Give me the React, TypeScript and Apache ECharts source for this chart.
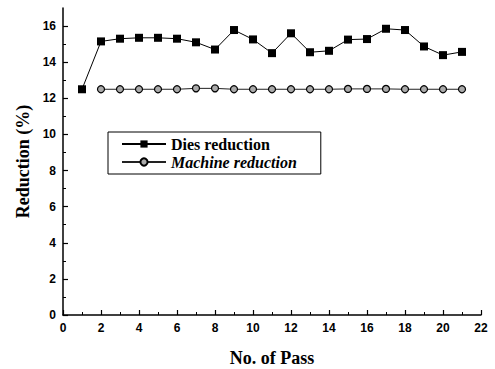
import React, { useEffect, useRef } from "react";
import * as echarts from "echarts";

const passes = [1, 2, 3, 4, 5, 6, 7, 8, 9, 10, 11, 12, 13, 14, 15, 16, 17, 18, 19, 20, 21];
const diesReduction = [12.5, 15.15, 15.3, 15.35, 15.35, 15.3, 15.1, 14.7, 15.78, 15.26, 14.5, 15.6, 14.55, 14.63, 15.25, 15.28, 15.85, 15.78, 14.87, 14.39, 14.57];
const machinePasses = [2, 3, 4, 5, 6, 7, 8, 9, 10, 11, 12, 13, 14, 15, 16, 17, 18, 19, 20, 21];
const machineReduction = [12.5, 12.5, 12.5, 12.5, 12.5, 12.55, 12.55, 12.5, 12.5, 12.5, 12.5, 12.5, 12.5, 12.52, 12.52, 12.52, 12.5, 12.5, 12.5, 12.5];
const yTickValues = [0, 2, 4, 6, 8, 10, 12, 14, 16];

export default function App() {
  const ref = useRef<HTMLDivElement>(null);
  useEffect(() => {
    if (!ref.current) return;
    const chart = echarts.init(ref.current, null, { renderer: "svg" });
    const axisFont = { fontFamily: "Liberation Sans, Arial", fontWeight: "bold" as const, fontSize: 12, color: "#000" };
    const nameFont = { fontFamily: "Liberation Serif, Times New Roman", fontWeight: "bold" as const, fontSize: 18, color: "#000" };
    chart.setOption({
      animation: false,
      backgroundColor: "#fff",
      grid: { left: 63, right: 14, top: 8, bottom: 54, containLabel: false, outerBoundsMode: "none" },
      legend: {
        left: 108,
        top: 132,
        orient: "vertical",
        padding: [4, 24, 4, 13],
        itemGap: 2,
        itemWidth: 44,
        itemHeight: 9,
        borderColor: "#000",
        borderWidth: 1,
        backgroundColor: "#fff",
        data: ["Dies reduction", "Machine reduction"],
        formatter: (name: string) => (name === "Machine reduction" ? "{i|" + name + "}" : "{b|" + name + "}"),
        textStyle: {
          rich: {
            b: { fontFamily: "Liberation Serif, Times New Roman", fontWeight: "bold", fontSize: 16, lineHeight: 19, color: "#000" },
            i: { fontFamily: "Liberation Serif, Times New Roman", fontWeight: "bold", fontStyle: "italic", fontSize: 16, lineHeight: 19, color: "#000" },
          },
        },
      },
      xAxis: {
        type: "value",
        min: 0,
        max: 22,
        interval: 2,
        name: "No. of Pass",
        nameLocation: "middle",
        nameGap: 34,
        nameTextStyle: nameFont,
        axisLine: { lineStyle: { color: "#000", width: 1.5 } },
        axisTick: { inside: true, length: 5, lineStyle: { color: "#000", width: 1.2 } },
        minorTick: { show: true, splitNumber: 2, length: 3, lineStyle: { color: "#000", width: 1 } },
        axisLabel: { ...axisFont, margin: 7 },
        splitLine: { show: false },
      },
      yAxis: {
        type: "value",
        min: 0,
        max: 17,
        interval: 2,
        name: "Reduction (%)",
        nameLocation: "middle",
        nameGap: 30,
        nameTextStyle: nameFont,
        axisLine: { show: true, lineStyle: { color: "#000", width: 1.5 } },
        axisTick: { inside: true, length: 5, customValues: yTickValues, lineStyle: { color: "#000", width: 1.2 } },
        minorTick: { show: true, splitNumber: 2, length: 3, lineStyle: { color: "#000", width: 1 } },
        axisLabel: {
          ...axisFont,
          margin: 7,
          customValues: yTickValues,
        },
        splitLine: { show: false },
      },
      series: [
        {
          name: "Machine reduction",
          type: "line",
          z: 2,
          data: machinePasses.map((p, i) => [p, machineReduction[i]]),
          symbol: "circle",
          symbolSize: 7,
          lineStyle: { color: "#222", width: 1 },
          itemStyle: { color: "#aaa", borderColor: "#000", borderWidth: 1.2 },
        },
        {
          name: "Dies reduction",
          type: "line",
          z: 3,
          data: passes.map((p, i) => [p, diesReduction[i]]),
          symbol: "rect",
          symbolSize: 8,
          lineStyle: { color: "#000", width: 1 },
          itemStyle: { color: "#000" },
        },
      ],
    });
    return () => chart.dispose();
  }, []);
  return <div ref={ref} style={{ width: 495, height: 369, position: "absolute", left: 0, top: 0 }} />;
}
